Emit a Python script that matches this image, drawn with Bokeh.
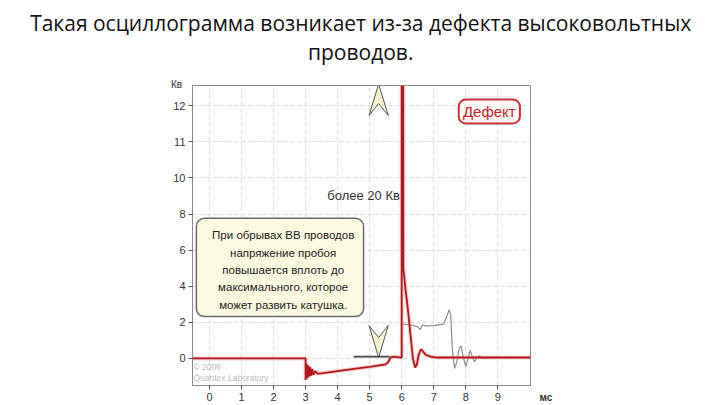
import numpy as np
from bokeh.plotting import figure
from bokeh.models import FixedTicker, BoxAnnotation, Label, ColumnDataSource
from bokeh.core.properties import value
from bokeh.embed import file_html
from bokeh.resources import INLINE

# ---------------- data (time in ms, voltage in kV) ----------------
red_t = [-0.55, 3.0, 3.0, 3.03, 3.06, 3.09, 3.12, 3.15, 3.18, 3.21, 3.25, 3.3, 3.38,
         4.0, 4.5, 5.0, 5.5, 5.58, 5.65, 5.75, 6.0, 6.0, 6.04, 6.05, 6.12, 6.2, 6.28,
         6.35, 6.42, 6.47, 6.53, 6.6, 6.66, 6.75, 6.9, 7.1, 10.1]
red_v = [0.0, 0.0, -1.2, -0.3, -1.1, -0.4, -1.0, -0.5, -0.95, -0.6, -0.9, -0.7, -0.85,
         -0.7, -0.58, -0.47, -0.33, -0.2, 0.05, 0.1, 0.05, 20.0, 20.0, 5.0, 3.8, 2.6, 1.2,
         0.0, -0.5, -0.35, 0.2, 0.5, 0.4, 0.2, 0.1, 0.05, 0.05]

gray_t = [6.04, 6.3, 6.5, 6.58, 6.65, 6.75, 7.0, 7.3, 7.4, 7.48, 7.53, 7.58, 7.65,
          7.72, 7.8, 7.85, 7.93, 8.0, 8.07, 8.14, 8.2, 8.27, 8.35, 8.42, 8.55, 8.7]
gray_v = [1.9, 1.85, 1.75, 1.6, 1.85, 1.8, 1.82, 1.9, 2.3, 2.7, 2.4, 0.5, -0.55,
          -0.2, 0.6, 0.7, 0.0, -0.45, 0.0, 0.45, 0.1, -0.2, 0.05, 0.15, 0.0, 0.05]

dark_t = [4.5, 5.65]
dark_v = [0.1, 0.1]

y_tick_values = [0, 2, 4, 6, 8, 10, 11, 12]
x_tick_values = [0, 1, 2, 3, 4, 5, 6, 7, 8, 9]

note_lines = ["При обрывах ВВ проводов", "напряжение пробоя", "повышается вплоть до",
              "максимального, которое", "может развить катушка."]
title_lines = ["Такая осциллограмма возникает из-за дефекта высоковольтных", "проводов."]

# markers (arrow heads) position
arrow_x = 5.28
arrow_up_v = [12.6, 11.73, 12.06]     # tip, prongs, notch
arrow_down_v = [0.05, 1.82, 1.16]     # tip, prongs, notch


def to_pos(v):
    v = np.asarray(v, dtype=float)
    return np.where(v <= 10, v / 2.0, 5.0 + (v - 10.0))


FONT = "Liberation Sans"

p = figure(width=712, height=405, output_backend="svg", toolbar_location=None,
           x_range=(-0.53, 10.02), y_range=(-0.75, 7.56),
           min_border_left=192, min_border_right=182, min_border_top=85,
           min_border_bottom=20)
p.background_fill_color = "white"
p.border_fill_color = "white"
p.outline_line_color = "#8a8a8a"
p.outline_line_width = 1

# axes
p.xaxis.ticker = FixedTicker(ticks=x_tick_values)
p.yaxis.ticker = FixedTicker(ticks=list(to_pos(y_tick_values)))
p.yaxis.major_label_overrides = {float(pp): str(v) for pp, v in zip(to_pos(y_tick_values), y_tick_values)}
for ax in (p.xaxis[0], p.yaxis[0]):
    ax.axis_line_color = "#8a8a8a"
    ax.major_tick_line_color = "#555555"
    ax.major_tick_out = 4
    ax.major_tick_in = 0
    ax.minor_tick_line_color = None
    ax.major_label_text_font = FONT
    ax.major_label_text_font_size = "11px"
    ax.major_label_text_color = "#333333"
    ax.major_label_standoff = 3

p.xgrid.ticker = FixedTicker(ticks=x_tick_values)
p.ygrid.ticker = FixedTicker(ticks=list(to_pos(y_tick_values)))
for g in (p.xgrid[0], p.ygrid[0]):
    g.grid_line_color = "#dadada"
    g.grid_line_dash = "4 3"
    g.grid_line_width = 1

# annotation box
p.add_layout(BoxAnnotation(left=-0.41, right=4.81, top=3.88, bottom=1.16,
                           fill_color="#fcfae0", fill_alpha=1.0,
                           line_color="#6a6a6a", line_alpha=1.0, line_width=1.5,
                           border_radius=8, level="underlay"))
note_src = ColumnDataSource(dict(x=[2.3] * len(note_lines),
                                 y=[3.41, 2.93, 2.45, 1.97, 1.49],
                                 t=note_lines))
p.text(x="x", y="y", text="t", source=note_src, text_font=value(FONT),
       text_font_size="11.5px", text_color="#222222", text_align="center",
       text_baseline="middle")

# defect box
p.add_layout(BoxAnnotation(left=7.78, right=9.69, top=7.17, bottom=6.51,
                           fill_color="#fff6f6", fill_alpha=1.0,
                           line_color="#c8323a", line_alpha=1.0, line_width=2,
                           border_radius=7))
p.add_layout(Label(x=8.735, y=6.84, text="Дефект", text_font=FONT,
                   text_font_size="15px", text_color="#c0282d",
                   text_align="center", text_baseline="middle"))

# traces
p.line(dark_t, list(to_pos(dark_v)), line_color="#444444", line_width=1.6)
p.line(gray_t, list(to_pos(gray_v)), line_color="#8c8c8c", line_width=1.2)
p.line(red_t, list(to_pos(red_v)), line_color="#f2a0a0", line_width=4, line_alpha=0.5)
p.line(red_t, list(to_pos(red_v)), line_color="#b3161c", line_width=1.8)

# arrows
def arrow_shape(vals):
    tip, prong, notch = to_pos(vals)
    w = 0.3
    return [arrow_x, arrow_x + w, arrow_x, arrow_x - w], [tip, prong, notch, prong]

for vals in (arrow_up_v, arrow_down_v):
    xs, ys = arrow_shape(vals)
    p.patch(xs, list(ys), fill_color="#f4f4d2", line_color="#555555", line_width=1)

# texts inside the frame
p.add_layout(Label(x=4.81, y=4.52, text="более 20 Кв", text_font=FONT,
                   text_font_size="13px", text_color="#333333",
                   text_align="center", text_baseline="middle"))
p.add_layout(Label(x=-0.5, y=-0.25, text="© 2006", text_font=FONT,
                   text_font_size="8.5px", text_color="#bbbbbb",
                   text_align="left", text_baseline="middle"))
p.add_layout(Label(x=-0.5, y=-0.55, text="Quantex Laboratory", text_font=FONT,
                   text_font_size="8.5px", text_color="#bbbbbb",
                   text_align="left", text_baseline="middle"))

# texts outside the frame (placed in side panels so they are not clipped)
p.add_layout(Label(x=-1.03, y=7.6, text="Кв", text_font=FONT,
                   text_font_size="10px", text_color="#333333",
                   text_align="center", text_baseline="middle"), "left")
p.add_layout(Label(x=10.5, y=-1.08, text="мс", text_font=FONT,
                   text_font_size="10px", text_color="#333333", text_font_style="bold",
                   text_align="center", text_baseline="middle"), "right")
p.add_layout(Label(x=4.72, y=9.3, text=title_lines[0], text_font="Open Sans",
                   text_font_size="21px", text_color="#111111",
                   text_align="center", text_baseline="middle"), "above")
p.add_layout(Label(x=4.72, y=8.5, text=title_lines[1], text_font="Open Sans",
                   text_font_size="21px", text_color="#111111",
                   text_align="center", text_baseline="middle"), "above")

open("out.html", "w").write(file_html(p, INLINE))
